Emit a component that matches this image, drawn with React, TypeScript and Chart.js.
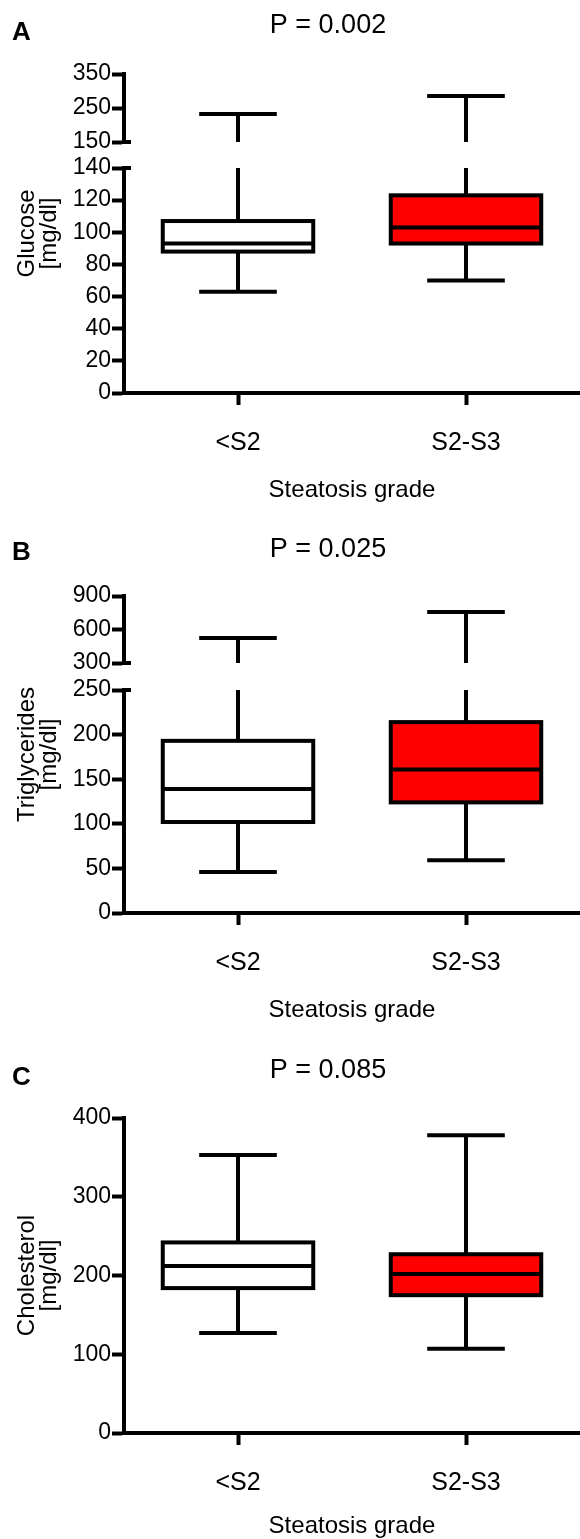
import React, { useEffect, useRef } from 'react';
import { Chart, registerables } from 'chart.js';

Chart.register(...registerables);

const FAMILY = "'Liberation Sans', Arial, Helvetica, sans-serif";

const categories = ['<S2', 'S2-S3'];
const boxFills = ['#ffffff', '#ff0000'];
const xTitle = 'Steatosis grade';

// Panel A – glucose
const glucoseMin = [63, 70];
const glucoseQ1 = [88, 93];
const glucoseMedian = [93, 103];
const glucoseQ3 = [107, 123];
const glucoseMax = [232, 285];

// Panel B – triglycerides
const trigMin = [46, 59];
const trigQ1 = [102, 124];
const trigMedian = [139, 161];
const trigQ3 = [193, 214];
const trigMax = [524, 757];

// Panel C – cholesterol
const cholMin = [127, 107];
const cholQ1 = [184, 175];
const cholMedian = [212, 202];
const cholQ3 = [242, 227];
const cholMax = [353, 378];

type Seg = { min: number; max: number; step: number };
type PanelDef = {
  height: number;
  top: number;
  xHeight: number;
  letter: string;
  letterBase: number;
  pText: string;
  pBase: number;
  xTitleBase: number;
  yTitle: string[];
  lower: Seg;
  upper: Seg | null;
  weights: number[]; // upper, gap, lower
  min: number[];
  q1: number[];
  median: number[];
  q3: number[];
  max: number[];
};

const panels: PanelDef[] = [
  {
    height: 510, top: 74, xHeight: 117,
    letter: 'A', letterBase: 40, pText: 'P = 0.002', pBase: 33, xTitleBase: 497,
    yTitle: ['Glucose', '[mg/dl]'],
    lower: { min: 0, max: 140, step: 20 },
    upper: { min: 150, max: 350, step: 100 },
    weights: [68, 26, 225],
    min: glucoseMin, q1: glucoseQ1, median: glucoseMedian, q3: glucoseQ3, max: glucoseMax,
  },
  {
    height: 515, top: 86, xHeight: 112,
    letter: 'B', letterBase: 50, pText: 'P = 0.025', pBase: 47, xTitleBase: 507,
    yTitle: ['Triglycerides', '[mg/dl]'],
    lower: { min: 0, max: 250, step: 50 },
    upper: { min: 300, max: 900, step: 300 },
    weights: [67, 27, 223],
    min: trigMin, q1: trigQ1, median: trigMedian, q3: trigQ3, max: trigMax,
  },
  {
    height: 514, top: 93, xHeight: 106,
    letter: 'C', letterBase: 60, pText: 'P = 0.085', pBase: 53, xTitleBase: 508,
    yTitle: ['Cholesterol', '[mg/dl]'],
    lower: { min: 0, max: 400, step: 100 },
    upper: null,
    weights: [0, 0, 1],
    min: cholMin, q1: cholQ1, median: cholMedian, q3: cholQ3, max: cholMax,
  },
];

const LINE = 4;

function yScale(seg: Seg, extra: any) {
  return {
    type: 'linear',
    position: 'left',
    min: seg.min,
    max: seg.max,
    ticks: {
      stepSize: seg.step,
      autoSkip: false,
      color: '#000',
      font: { family: FAMILY, size: 23 },
      padding: 1,
    },
    grid: {
      display: true,
      drawOnChartArea: false,
      drawTicks: true,
      tickLength: 12,
      tickWidth: LINE,
      tickColor: '#000',
      color: '#000',
    },
    border: { display: true, width: LINE, color: '#000' },
    afterFit: (s: any) => {
      s.width = 124;
    },
    ...extra,
  };
}

function boxPlugin(p: PanelDef) {
  return {
    id: 'boxWhiskers',
    afterDatasetsDraw(chart: any) {
      const { ctx, chartArea } = chart;
      const lo = chart.scales.y;
      const up = chart.scales.y2;
      const meta = chart.getDatasetMeta(0);
      ctx.save();
      ctx.strokeStyle = '#000';
      ctx.lineWidth = LINE;
      ctx.lineCap = 'butt';
      ctx.lineJoin = 'miter';
      const hline = (x1: number, x2: number, y: number) => {
        ctx.beginPath();
        ctx.moveTo(x1, y);
        ctx.lineTo(x2, y);
        ctx.stroke();
      };
      const vline = (x: number, y1: number, y2: number) => {
        ctx.beginPath();
        ctx.moveTo(x, y1);
        ctx.lineTo(x, y2);
        ctx.stroke();
      };
      meta.data.forEach((el: any, i: number) => {
        const { x, y, base, width } = el.getProps(['x', 'y', 'base', 'width'], true);
        const left = x - width / 2;
        const right = x + width / 2;
        const top = Math.min(y, base);
        const bottom = Math.max(y, base);
        const capHalf = width * 0.258;
        // upper whisker
        const mx = p.max[i];
        if (up && mx > lo.max) {
          vline(x, top, lo.getPixelForValue(lo.max));
          const capY = up.getPixelForValue(mx);
          vline(x, up.getPixelForValue(up.min), capY);
          hline(x - capHalf, x + capHalf, capY);
        } else {
          const capY = lo.getPixelForValue(mx);
          vline(x, top, capY);
          hline(x - capHalf, x + capHalf, capY);
        }
        // lower whisker
        const minY = lo.getPixelForValue(p.min[i]);
        vline(x, bottom, minY);
        hline(x - capHalf, x + capHalf, minY);
        // box outline and median
        ctx.strokeRect(left, top, width, bottom - top);
        hline(left, right, lo.getPixelForValue(p.median[i]));
      });
      // axis break end marks
      if (up) {
        const ax = chartArea.left;
        hline(ax - 2, ax + 7, up.getPixelForValue(up.min));
        hline(ax - 2, ax + 7, lo.getPixelForValue(lo.max));
      }
      ctx.restore();
    },
  };
}

function textPlugin(p: PanelDef) {
  return {
    id: 'panelText',
    afterDraw(chart: any) {
      const { ctx, chartArea } = chart;
      ctx.save();
      ctx.fillStyle = '#000';
      ctx.textBaseline = 'alphabetic';
      ctx.font = `bold 26px ${FAMILY}`;
      ctx.textAlign = 'left';
      ctx.fillText(p.letter, 12, p.letterBase);
      ctx.font = `27px ${FAMILY}`;
      ctx.textAlign = 'center';
      ctx.fillText(p.pText, 328, p.pBase);
      ctx.font = `24px ${FAMILY}`;
      ctx.fillText(xTitle, (chartArea.left + chartArea.right) / 2, p.xTitleBase);
      const cy = (chartArea.top + chartArea.bottom) / 2;
      ctx.font = `24px ${FAMILY}`;
      const baseX = [34, 56];
      p.yTitle.forEach((line, k) => {
        ctx.save();
        ctx.translate(baseX[k], cy);
        ctx.rotate(-Math.PI / 2);
        ctx.fillText(line, 0, 0);
        ctx.restore();
      });
      ctx.restore();
    },
  };
}

function makeConfig(p: PanelDef): any {
  const scales: any = {
    x: {
      type: 'category',
      offset: true,
      grid: {
        display: true,
        drawOnChartArea: false,
        drawTicks: true,
        tickLength: 12,
        tickWidth: LINE,
        tickColor: '#000',
        color: '#000',
        offset: false,
      },
      border: { display: true, width: LINE, color: '#000' },
      ticks: { color: '#000', font: { family: FAMILY, size: 25 }, padding: 23, autoSkip: false },
      afterFit: (s: any) => {
        s.height = p.xHeight;
      },
    },
  };
  if (p.upper) {
    scales.y = yScale(p.lower, { stack: 'brk', stackWeight: p.weights[2], weight: 1 });
    scales.gap = {
      type: 'linear',
      position: 'left',
      display: false,
      min: 0,
      max: 1,
      stack: 'brk',
      stackWeight: p.weights[1],
      weight: 2,
    };
    scales.y2 = yScale(p.upper, { stack: 'brk', stackWeight: p.weights[0], weight: 3 });
  } else {
    scales.y = yScale(p.lower, {});
  }
  return {
    type: 'bar',
    data: {
      labels: categories,
      datasets: [
        {
          data: categories.map((_, i) => [p.q1[i], p.q3[i]]),
          backgroundColor: boxFills,
          borderWidth: 0,
          inflateAmount: 0,
          barPercentage: 0.66,
          categoryPercentage: 1,
          yAxisID: 'y',
        },
      ],
    },
    options: {
      responsive: false,
      animation: false,
      events: [],
      layout: { padding: { top: p.top, left: 0, right: 0, bottom: 0 } },
      plugins: {
        legend: { display: false },
        tooltip: { enabled: false },
        title: { display: false },
      },
      scales,
    },
    plugins: [boxPlugin(p), textPlugin(p)],
  };
}

function Panel({ p }: { p: PanelDef }) {
  const ref = useRef<HTMLCanvasElement | null>(null);
  useEffect(() => {
    if (!ref.current) return;
    const chart = new Chart(ref.current, makeConfig(p));
    return () => chart.destroy();
  }, [p]);
  return (
    <canvas
      ref={ref}
      width={580}
      height={p.height}
      style={{ display: 'block', width: 580, height: p.height }}
    />
  );
}

export default function App() {
  return (
    <div
      style={{
        position: 'absolute',
        left: 0,
        top: 0,
        width: 580,
        height: 1539,
        background: '#fff',
        overflow: 'hidden',
      }}
    >
      {panels.map((p) => (
        <Panel key={p.letter} p={p} />
      ))}
    </div>
  );
}
